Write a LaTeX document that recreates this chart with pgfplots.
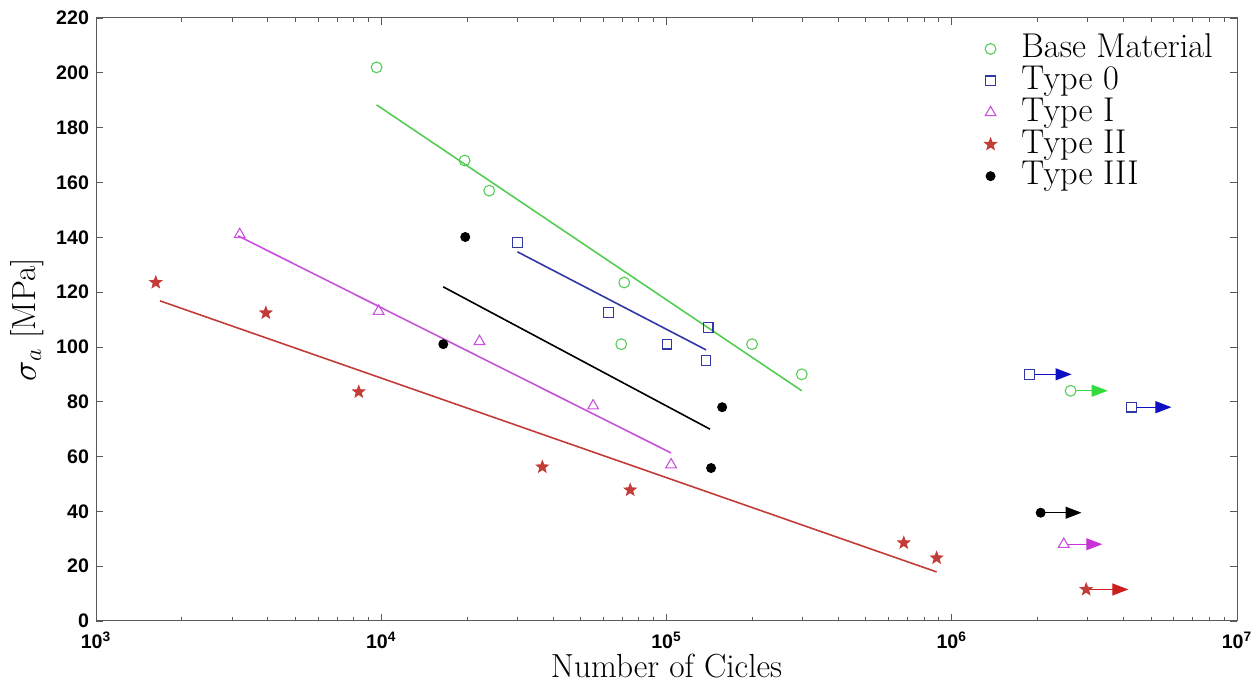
\documentclass[border=0pt]{standalone}
\usepackage{fontspec}
\usepackage{pgfplots}
\pgfplotsset{compat=1.18}
\usetikzlibrary{arrows.meta}
\newfontfamily\tickfont{Liberation Sans}

\definecolor{bmg}{RGB}{85,205,85}
\definecolor{tzb}{RGB}{50,55,165}
\definecolor{tim}{RGB}{200,80,220}
\definecolor{tir}{RGB}{195,60,55}
\definecolor{arb}{RGB}{15,15,195}
\definecolor{arg}{RGB}{50,220,60}
\definecolor{arm}{RGB}{200,50,215}
\definecolor{arr}{RGB}{205,30,30}

\pgfdeclareplotmark{pentagram}{%
  \pgfpathmoveto{\pgfqpointpolar{90}{\pgfplotmarksize}}%
  \pgfpathlineto{\pgfqpointpolar{126}{0.42\pgfplotmarksize}}%
  \pgfpathlineto{\pgfqpointpolar{162}{\pgfplotmarksize}}%
  \pgfpathlineto{\pgfqpointpolar{198}{0.42\pgfplotmarksize}}%
  \pgfpathlineto{\pgfqpointpolar{234}{\pgfplotmarksize}}%
  \pgfpathlineto{\pgfqpointpolar{270}{0.42\pgfplotmarksize}}%
  \pgfpathlineto{\pgfqpointpolar{306}{\pgfplotmarksize}}%
  \pgfpathlineto{\pgfqpointpolar{342}{0.42\pgfplotmarksize}}%
  \pgfpathlineto{\pgfqpointpolar{18}{\pgfplotmarksize}}%
  \pgfpathlineto{\pgfqpointpolar{54}{0.42\pgfplotmarksize}}%
  \pgfpathclose\pgfusepathqfillstroke}

\begin{document}
\begin{tikzpicture}
\begin{axis}[
  scale only axis, width=570.5pt, height=301.5pt,
  xmode=log, xmin=1e3, xmax=1e7, ymin=0, ymax=220,
  xtick={1e3,1e4,1e5,1e6,1e7},
  xticklabels={10\textsuperscript{3},10\textsuperscript{4},10\textsuperscript{5},10\textsuperscript{6},10\textsuperscript{7}},
  minor xtick={2e3,3e3,4e3,5e3,6e3,7e3,8e3,9e3,2e4,3e4,4e4,5e4,6e4,7e4,8e4,9e4,2e5,3e5,4e5,5e5,6e5,7e5,8e5,9e5,2e6,3e6,4e6,5e6,6e6,7e6,8e6,9e6},
  ytick={0,20,...,220},
  ticklabel style={font=\tickfont\bfseries\fontsize{9.8}{10}\selectfont},
  yticklabel style={/pgf/number format/assume math mode=true},
  xticklabel style={yshift=-2pt},
  tick align=inside,
  major tick length=3.5pt, minor tick length=2pt,
  axis line style={black!65, line width=0.5pt},
  every tick/.style={black!65, line width=0.4pt},
  xlabel={Number of Cicles},
  ylabel={$\sigma_a$ [MPa]},
  label style={font=\fontsize{16.7}{19}\selectfont},
  xlabel style={at={(axis description cs:0.5,0)}, anchor=base, yshift=-28.5pt},
  ylabel style={at={(axis description cs:-0.06,0.5)}, anchor=center},
  legend style={draw=none, fill=none, inner sep=0pt, outer sep=0pt,
    at={(rel axis cs:0.779,0.975)}, anchor=north west,
    font=\fontsize{17.2}{17}\selectfont,
    nodes={text height=12.2pt, text depth=3.5pt, inner sep=0.1pt},
    /tikz/every odd column/.append style={column sep=12.5pt}},
  legend cell align=left,
  legend image code/.code={\draw[#1, mark repeat=2, mark phase=2] plot coordinates {(0pt,0pt) (5pt,0pt) (10pt,0pt)};},
  mark options={solid, line width=0.55pt},
]
% data points
\addplot[only marks, bmg, mark=o, mark size=2.7pt] coordinates {
 (9630,202) (19600,168) (23900,157) (71100,123.5) (69400,101) (199500,101) (298000,90)};
\addlegendentry{Base Material}
\addplot[only marks, tzb, mark=square, mark size=2.4pt] coordinates {
 (30000,138) (62500,112.5) (100500,101) (140000,107) (137700,95)};
\addlegendentry{Type 0}
\addplot[only marks, tim, mark=triangle, mark size=3.1pt] coordinates {
 (3190,141) (9790,113) (22100,102) (55300,78.5) (103800,57)};
\addlegendentry{Type I}
\addplot[only marks, tir, fill=tir, mark=pentagram, mark size=3pt] coordinates {
 (1620,123.5) (3940,112.4) (8340,83.6) (36700,56.2) (74600,47.8) (679000,28.5) (885000,23)};
\addlegendentry{Type II}
\addplot[only marks, black, mark=*, mark size=2.2pt] coordinates {
 (19700,140.1) (16500,101) (156700,78) (143300,55.8)};
\addlegendentry{Type III}
% fit lines
\addplot[forget plot, bmg, line width=0.8pt] coordinates {(9630,188.3) (298000,84)};
\addplot[forget plot, tzb, line width=0.8pt] coordinates {(30000,134.7) (137700,98.9)};
\addplot[forget plot, tim, line width=0.8pt] coordinates {(3150,140.5) (103800,61.3)};
\addplot[forget plot, tir, line width=0.8pt] coordinates {(1676,116.8) (885000,17.9)};
\addplot[forget plot, black, line width=0.8pt] coordinates {(16500,121.9) (142000,70)};
% run-out arrows
\addplot[forget plot, arb, line width=0.5pt, -{Triangle[length=8pt,width=6pt]}] coordinates {(1.87e6,90) (2.63e6,90)};
\addplot[forget plot, arg, line width=0.5pt, -{Triangle[length=8pt,width=6pt]}] coordinates {(2.61e6,84) (3.52e6,84)};
\addplot[forget plot, arb, line width=0.5pt, -{Triangle[length=8pt,width=6pt]}] coordinates {(4.26e6,78) (5.89e6,78)};
\addplot[forget plot, black, line width=0.5pt, -{Triangle[length=8pt,width=6pt]}] coordinates {(2.05e6,39.5) (2.85e6,39.5)};
\addplot[forget plot, arm, line width=0.5pt, -{Triangle[length=8pt,width=6pt]}] coordinates {(2.47e6,28) (3.37e6,28)};
\addplot[forget plot, arr, line width=0.5pt, -{Triangle[length=8pt,width=6pt]}] coordinates {(2.96e6,11.5) (4.16e6,11.5)};
% run-out markers
\addplot[forget plot, only marks, tzb, fill=white, mark=square*, mark size=2.4pt] coordinates {(1.87e6,90) (4.26e6,78)};
\addplot[forget plot, only marks, bmg, fill=white, mark=*, mark size=2.7pt] coordinates {(2.61e6,84)};
\addplot[forget plot, only marks, black, mark=*, mark size=2.2pt] coordinates {(2.05e6,39.5)};
\addplot[forget plot, only marks, tim, fill=white, mark=triangle*, mark size=3.1pt] coordinates {(2.47e6,28)};
\addplot[forget plot, only marks, tir, fill=tir, mark=pentagram, mark size=3pt] coordinates {(2.96e6,11.5)};
\end{axis}
\pgfresetboundingbox
\path[use as bounding box] ([shift={(-48pt,-32pt)}]current axis.south west) rectangle ([shift={(10pt,9pt)}]current axis.north east);
\end{tikzpicture}
\end{document}
